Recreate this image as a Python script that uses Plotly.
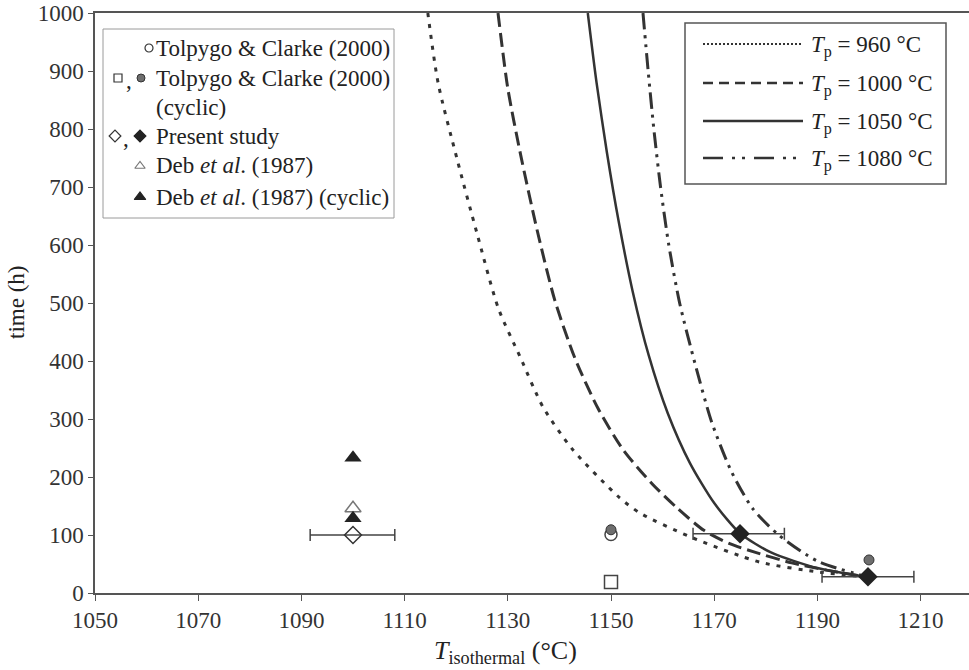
import plotly.graph_objects as go

# ---------------- data ----------------
# model curves: time (h) vs T_isothermal (°C) for several Tp
T_960 = [1114.5, 1116.5, 1120.2, 1124.0, 1128.2, 1132.4, 1136.8, 1142.6, 1151.7, 1155.6, 1165.3, 1178.9, 1190.5, 1200]
t_960 = [1000, 879, 747, 621, 490, 407, 321, 247, 164, 138, 97, 53, 36, 27]

T_1000 = [1128.1, 1130.0, 1132.5, 1135.7, 1139.1, 1143.0, 1147.5, 1152.5, 1158.0, 1163.0, 1168.0, 1173.0, 1178.0, 1185.0, 1192.0, 1200]
t_1000 = [1000, 870, 755, 625, 505, 405, 318, 245, 188, 145, 108, 85, 70, 52, 39, 27]

T_1050 = [1145.5, 1147.2, 1149.2, 1151.5, 1154.2, 1157.3, 1161.0, 1165.3, 1170.0, 1175.0, 1181.0, 1190.0, 1200]
t_1050 = [1000, 880, 760, 640, 520, 410, 310, 224, 155, 103, 70, 43, 27]

T_1080 = [1156.2, 1157.2, 1158.3, 1159.6, 1161.2, 1163.3, 1166.3, 1169.5, 1173.3, 1177.5, 1182.5, 1190.0, 1200]
t_1080 = [1000, 900, 800, 700, 600, 500, 395, 295, 210, 145, 100, 55, 27]

# experimental points
tolpygo_T = [1150]
tolpygo_t = [101]
tolpygo_cyc_sq_T = [1150]
tolpygo_cyc_sq_t = [19]
tolpygo_cyc_ci_T = [1150, 1200]
tolpygo_cyc_ci_t = [109, 57]
present_open_T = [1100]
present_open_t = [100]
present_open_err_minus = [8.3]
present_open_err_plus = [8.1]
present_fill_T = [1175, 1199.8]
present_fill_t = [102, 28]
present_fill_err_minus = [9.1, 8.9]
present_fill_err_plus = [8.6, 8.9]
deb_T = [1100]
deb_t = [146]
deb_cyc_T = [1100, 1100]
deb_cyc_t = [233, 129]

curve_labels = ["960", "1000", "1050", "1080"]
x_ticks = [1050, 1070, 1090, 1110, 1130, 1150, 1170, 1190, 1210]
y_ticks = [0, 100, 200, 300, 400, 500, 600, 700, 800, 900, 1000]

# ---------------- styling ----------------
FONT = "Liberation Serif"
TXT = "#222222"
INK = "#333333"
W, H = 969, 670
L, R, TOP, BOT = 95, 969, 13, 593  # plot area in page pixels
FS = 23

curve_styles = [
    dict(width=3, dash="4px,7px"),
    dict(width=3, dash="14px,6px"),
    dict(width=2.5, dash="solid"),
    dict(width=3, dash="16px,6px,3px,6px,3px,6px"),
]
legend_styles = [
    dict(width=2, dash="2px,2px"),
    dict(width=2.5, dash="10px,6px"),
    dict(width=2.5, dash="solid"),
    dict(width=2.5, dash="20px,9px,3px,7px,3px,9px"),
]

fig = go.Figure()

curves = [(T_960, t_960), (T_1000, t_1000), (T_1050, t_1050), (T_1080, t_1080)]
for (xs, ys), st in zip(curves, curve_styles):
    fig.add_trace(go.Scatter(x=xs, y=ys, mode="lines",
                             line=dict(color=INK, width=st["width"], dash=st["dash"], shape="spline", smoothing=0.7),
                             showlegend=False, hoverinfo="skip"))

err_col = "#444444"
fig.add_trace(go.Scatter(x=present_open_T, y=present_open_t, mode="markers",
                         marker=dict(symbol="diamond-open", size=13, color="#333", line=dict(width=1.5)),
                         error_x=dict(type="data", symmetric=False, array=present_open_err_plus,
                                      arrayminus=present_open_err_minus, color=err_col, thickness=1.5, width=6),
                         showlegend=False))
fig.add_trace(go.Scatter(x=present_fill_T, y=present_fill_t, mode="markers",
                         marker=dict(symbol="diamond", size=15, color="#222"),
                         error_x=dict(type="data", symmetric=False, array=present_fill_err_plus,
                                      arrayminus=present_fill_err_minus, color=err_col, thickness=1.5, width=6),
                         showlegend=False))
fig.add_trace(go.Scatter(x=tolpygo_T, y=tolpygo_t, mode="markers",
                         marker=dict(symbol="circle-open", size=12, color="#444", line=dict(width=1.5)),
                         showlegend=False))
fig.add_trace(go.Scatter(x=tolpygo_cyc_ci_T, y=tolpygo_cyc_ci_t, mode="markers",
                         marker=dict(symbol="circle", size=10, color="#6e6e6e", line=dict(color="#333", width=1)),
                         showlegend=False))
fig.add_trace(go.Scatter(x=tolpygo_cyc_sq_T, y=tolpygo_cyc_sq_t, mode="markers",
                         marker=dict(symbol="square-open", size=13, color="#444", line=dict(width=1.5)),
                         showlegend=False))
fig.add_trace(go.Scatter(x=deb_T, y=deb_t, mode="markers",
                         marker=dict(symbol="triangle-up-open", size=14, color="#777", line=dict(width=1.5)),
                         showlegend=False))
fig.add_trace(go.Scatter(x=deb_cyc_T, y=deb_cyc_t, mode="markers",
                         marker=dict(symbol="triangle-up", size=15, color="#222"),
                         showlegend=False))

# ---------------- legends (drawn on a pixel-unit overlay axis) ----------------
def lg_marker(x, y, symbol, size, color, lw=1.2, lcolor=None):
    fig.add_trace(go.Scatter(x=[x], y=[y], xaxis="x2", yaxis="y2", mode="markers",
                             marker=dict(symbol=symbol, size=size, color=color,
                                         line=dict(width=lw, color=lcolor or color)),
                             showlegend=False, hoverinfo="skip"))

def lg_text(x, y, text, size=FS, anchor="left"):
    fig.add_annotation(x=x, y=y, xref="x2", yref="y2", text=text, showarrow=False,
                       xanchor=anchor, yanchor="middle", font=dict(family=FONT, size=size, color=TXT))

# legend 1 box
fig.add_shape(type="rect", xref="x2", yref="y2", x0=103, y0=29, x1=394, y1=218,
              line=dict(color="#9a9a9a", width=1), fillcolor="white", layer="below")
lg_marker(149, 48, "circle-open", 8, "#333")
lg_text(154, 48, "Tolpygo &amp; Clarke (2000)")
lg_marker(118, 78, "square-open", 8, "#333")
lg_text(124, 80, ",", anchor="left")
lg_marker(141, 78, "circle", 8, "#6e6e6e", 1, "#333")
lg_text(154, 78, "Tolpygo &amp; Clarke (2000)")
lg_text(154, 107, "(cyclic)")
lg_marker(115, 136, "diamond-open", 9, "#333")
lg_text(121, 138, ",", anchor="left")
lg_marker(140, 136, "diamond", 9, "#222")
lg_text(154, 136, "Present study")
lg_marker(140, 166, "triangle-up-open", 9, "#777")
lg_text(154, 165, "Deb <i>et al</i>. (1987)")
lg_marker(140, 197, "triangle-up", 10, "#222")
lg_text(154, 197, "Deb <i>et al</i>. (1987) (cyclic)")

# legend 2 box
fig.add_shape(type="rect", xref="x2", yref="y2", x0=685, y0=23, x1=946, y1=184,
              line=dict(color="#555555", width=1.5), fillcolor="white", layer="below")
rows2 = [44, 83, 121, 158]
for lab, st, yy in zip(curve_labels, legend_styles, rows2):
    fig.add_trace(go.Scatter(x=[703, 803], y=[yy, yy], xaxis="x2", yaxis="y2", mode="lines",
                             line=dict(color=INK, width=st["width"], dash=st["dash"]),
                             showlegend=False, hoverinfo="skip"))
    lg_text(809, yy + 2, "<i>T</i><sub>p</sub> = " + lab + " °C")

# axis titles
def px2paper(px, py):
    return (px - L) / (R - L), (BOT - py) / (BOT - TOP)

xt = px2paper(505, 652)
fig.add_annotation(x=xt[0], y=xt[1], xref="paper", yref="paper", showarrow=False,
                   text="<i>T</i><sub>isothermal</sub> (°C)", xanchor="center", yanchor="middle",
                   font=dict(family=FONT, size=26, color=TXT))
yt = px2paper(16, 303)
fig.add_annotation(x=yt[0], y=yt[1], xref="paper", yref="paper", showarrow=False,
                   text="time (h)", textangle=-90, xanchor="center", yanchor="middle",
                   font=dict(family=FONT, size=FS, color=TXT))

fig.update_layout(
    width=W, height=H,
    margin=dict(l=L, r=W - R, t=TOP, b=H - BOT),
    paper_bgcolor="white", plot_bgcolor="white",
    font=dict(family=FONT, size=FS, color=TXT),
    xaxis=dict(range=[1050, 1050 + (R - L) / 5.16], tickvals=x_ticks, showgrid=False, zeroline=False,
               showline=True, linecolor="#555", linewidth=1.5, mirror=True,
               ticks="outside", ticklen=6, tickcolor="#555", tickwidth=1.2,
               tickfont=dict(family=FONT, size=FS, color="#333")),
    yaxis=dict(range=[0, 1000], tickvals=y_ticks, showgrid=False, zeroline=False,
               showline=True, linecolor="#555", linewidth=1.5,
               ticks="outside", ticklen=5, tickcolor="#555", tickwidth=1.2,
               tickfont=dict(family=FONT, size=FS, color="#333")),
    xaxis2=dict(overlaying="x", range=[L, R], visible=False, fixedrange=True),
    yaxis2=dict(overlaying="y", range=[BOT, TOP], visible=False, fixedrange=True),
    showlegend=False,
)

fig.write_html("out.html")
